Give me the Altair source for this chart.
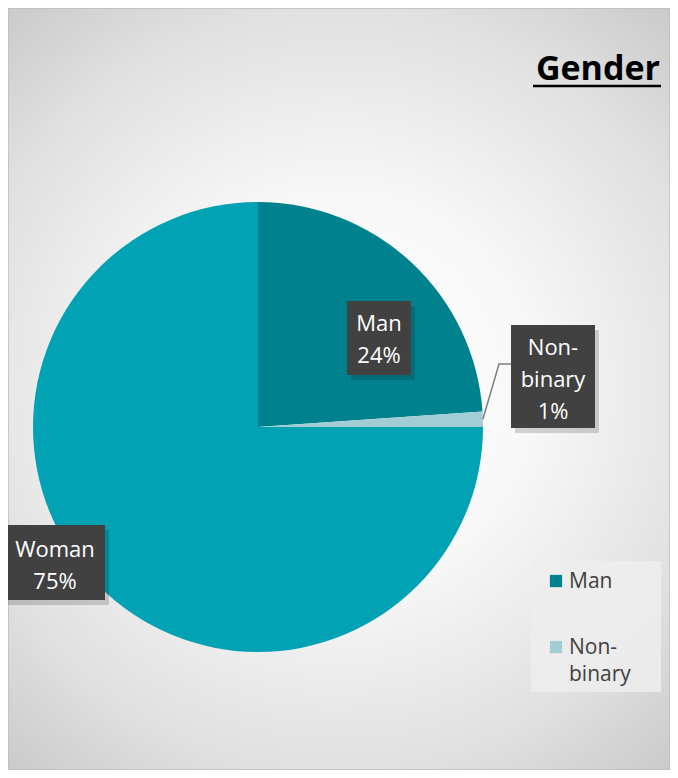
import altair as alt
import pandas as pd
import math

# ---- data ----
categories = ["Man", "Non-binary", "Woman"]
shares = [23.9, 1.1, 75.0]
colors = ["#00828E", "#A3CDD4", "#00A2B3"]
legend_items = ["Man", "Non-binary"]
title_text = "Gender"

# ---- layout (pixels, chart coordinates) ----
W, H = 662, 762
CX, CY, R = 250, 419, 225
FONT = "Open Sans"
# label box: x1, x2, y1, y2, first-line centre x, first-line centre y
label_layout = {
    "Man": (339, 403, 293, 367, 371, 316),
    "Non-binary": (503, 587, 317, 420, 545, 340),
    "Woman": (-5, 97, 517, 592, 47, 542),
}

total = sum(shares)
df = pd.DataFrame({"category": categories, "share": shares, "order": list(range(len(categories)))})
nl = "\n"
df["label"] = [c.replace("-", "-" + nl) + nl + f"{round(s / total * 100)}%" for c, s in zip(categories, shares)]
for k, col in enumerate(["bx1", "bx2", "by1", "by2", "tx", "ty"]):
    df[col] = [label_layout[c][k] for c in categories]

color_scale = alt.Scale(domain=categories, range=colors)

# background
bg = alt.Chart(pd.DataFrame({"a": [0]})).mark_rect(
    fill=alt.RadialGradient(
        gradient="radial",
        stops=[
            alt.GradientStop(color="#FFFFFF", offset=0),
            alt.GradientStop(color="#F8F8F8", offset=0.35),
            alt.GradientStop(color="#E0E0E0", offset=0.7),
            alt.GradientStop(color="#C2C2C2", offset=1),
        ],
        x1=0.5, y1=0.5, r1=0, x2=0.5, y2=0.5, r2=0.72,
    ),
    stroke="#BDBDBD",
    strokeWidth=1.5,
).encode(x=alt.value(0), x2=alt.value(W), y=alt.value(0), y2=alt.value(H))

pie = alt.Chart(df).mark_arc(radius=R).encode(
    theta=alt.Theta("share:Q", stack=True),
    color=alt.Color("category:N", scale=color_scale, legend=None),
    order=alt.Order("order:Q"),
    x=alt.value(CX),
    y=alt.value(CY),
)

# leader line for the small slice: from slice mid-angle on the rim to its label
cum = 0
mid = {}
for c, s in zip(categories, shares):
    mid[c] = (cum + s / 2) / total * 2 * math.pi
    cum += s
a = mid["Non-binary"]
lb = label_layout["Non-binary"]
leader_df = pd.DataFrame({
    "x": [CX + R * math.sin(a), lb[0] - 12, lb[0]],
    "y": [CY - R * math.cos(a), CY - 63, CY - 63],
    "i": [0, 1, 2],
})
leader = alt.Chart(leader_df).mark_line(color="#7F7F7F", strokeWidth=1.5).encode(
    x=alt.X("x:Q", scale=None), y=alt.Y("y:Q", scale=None), order="i:Q"
)

box_enc = dict(
    x=alt.X("bx1:Q", scale=None), x2="bx2:Q",
    y=alt.Y("by1:Q", scale=None), y2="by2:Q",
)
shadow = alt.Chart(df).mark_rect(color="#000000", opacity=0.16, xOffset=4, x2Offset=4, yOffset=5, y2Offset=5).encode(**box_enc)
boxes = alt.Chart(df).mark_rect(color="#414141").encode(**box_enc)
labels = alt.Chart(df).mark_text(
    font=FONT, fontSize=22, color="white", align="center", baseline="middle",
    lineBreak="\n", lineHeight=32,
).encode(x=alt.X("tx:Q", scale=None), y=alt.Y("ty:Q", scale=None), text="label:N")

# title
title_df = pd.DataFrame({"t": [title_text]})
title = alt.Chart(title_df).mark_text(
    font=FONT, fontSize=34, fontWeight="bold", color="#000000", align="right", baseline="alphabetic"
).encode(x=alt.value(652), y=alt.value(72), text="t:N")
underline = alt.Chart(title_df).mark_rule(color="#000000", strokeWidth=2.5).encode(
    x=alt.value(525), x2=alt.value(653), y=alt.value(78)
)

# legend (Excel's box is too small to show all entries)
leg_df = pd.DataFrame({
    "category": legend_items,
    "text": [c.replace("-", "-" + nl) for c in legend_items],
})
leg_df["ys"] = [573 + 66 * i for i in range(len(legend_items))]
leg_df["yt"] = [574 + 66 * i for i in range(len(legend_items))]
leg_bg = alt.Chart(pd.DataFrame({"a": [0]})).mark_rect(color="#EDEDED", opacity=0.85).encode(
    x=alt.value(523), x2=alt.value(653), y=alt.value(553), y2=alt.value(684)
)
leg_sym = alt.Chart(leg_df).mark_square(size=150, opacity=1).encode(
    x=alt.value(548), y=alt.Y("ys:Q", scale=None),
    color=alt.Color("category:N", scale=color_scale, legend=None),
)
leg_txt = alt.Chart(leg_df).mark_text(
    font=FONT, fontSize=21, color="#404040", align="left", baseline="middle",
    lineBreak="\n", lineHeight=27,
).encode(x=alt.value(561), y=alt.Y("yt:Q", scale=None), text="text:N")

chart = alt.layer(
    bg, pie, leader, shadow, boxes, labels, title, underline, leg_bg, leg_sym, leg_txt
).properties(
    width=W, height=H, padding=0, autosize=alt.AutoSizeParams(type="none")
).configure_view(stroke=None)

chart.save("out.html", embed_options={"renderer": "svg", "actions": False})
